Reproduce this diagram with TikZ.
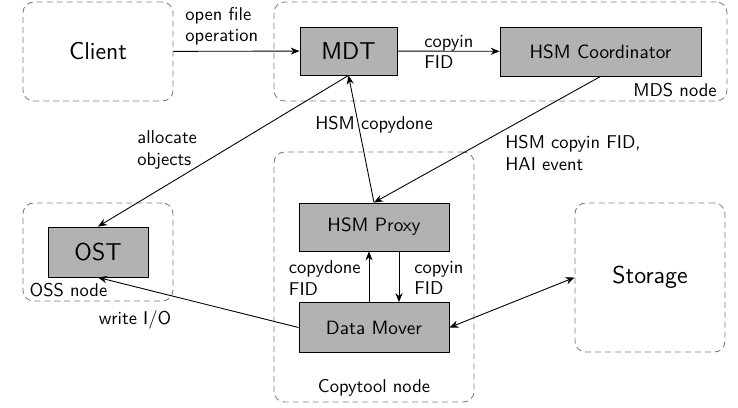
\documentclass[tikz,border=0pt]{standalone}
\usetikzlibrary{arrows.meta}
\newdimen\pxu \pxu=0.5618pt
\begin{document}
\begin{tikzpicture}[x=0.5618pt,y=-0.5618pt,font=\sffamily\fontsize{10.4}{11.9}\selectfont,
  sz/.style 2 args={minimum width={#1*\pxu},minimum height={#2*\pxu}},
  big/.style={font=\sffamily\fontsize{13.7}{16}\selectfont},
  mid/.style={font=\sffamily\fontsize{10.8}{13}\selectfont},
  container/.style={draw=gray,dash pattern=on 3.4pt off 2.2pt,rounded corners=6pt,inner sep=0pt,line width=0.5pt},
  block/.style={draw=black,fill=gray!60,inner sep=0pt,line width=0.5pt},
  conn/.style={-{Stealth[length=5pt,width=4pt,inset=1.6pt]},line width=0.5pt},
  biconn/.style={{Stealth[length=5pt,width=4pt,inset=1.6pt]}-{Stealth[length=5pt,width=4pt,inset=1.6pt]},line width=0.5pt},
  lbl/.style={align=left,inner sep=0pt}]
\useasboundingbox (0,0) rectangle (738,407);
% containers
\node[container,sz={150}{99},big] (client) at (98,51.5) {Client};
\node[container,sz={453}{99}] (mds) at (500.5,51.5) {};
\node[container,sz={150}{98}] (oss) at (98,252) {};
\node[container,sz={200}{250}] (copytool) at (374,277) {};
\node[container,sz={150}{149},big] (storage) at (650,277.5) {Storage};
% blocks
\node[block,sz={97}{48},big] (mdt) at (348.5,51) {MDT};
\node[block,sz={201}{49},mid] (coord) at (600.5,51.5) {HSM Coordinator};
\node[block,sz={100}{50},big] (ost) at (98,252) {OST};
\node[block,sz={150}{48},mid] (proxy) at (374,227) {HSM Proxy};
\node[block,sz={150}{50},mid] (dm) at (374,327.5) {Data Mover};
% container labels
\node[lbl] (mdslbl) at (675,90) {MDS node};
\node[lbl] (osslbl) at (68.5,290) {OSS node};
\node[lbl] (ctlbl) at (374,388) {Copytool node};
% connectors
\draw[conn] (client) -- (mdt);
\draw[conn] (mdt) -- (coord);
\draw[conn] (mdt.south) -- (ost.north);
\draw[conn] (proxy.north) -- (mdt.south);
\draw[conn] (coord.south) -- (proxy.north);
\draw[conn] ([xshift=-5*\pxu]dm.north) -- ([xshift=-5*\pxu]proxy.south);
\draw[conn] ([xshift=25*\pxu]proxy.south) -- ([xshift=25*\pxu]dm.north);
\draw[conn] (dm.west) -- (ost.south);
\draw[biconn] (dm.east) -- (storage.west);
% connector labels
\node[lbl,anchor=west] (l1) at (185,26) {open file\\operation};
\node[lbl,anchor=west] (l2) at (424,52) {copyin\\FID};
\node[lbl,anchor=west] (l3) at (137,150) {allocate\\objects};
\node[lbl] (l4) at (374,125) {HSM copydone};
\node[lbl,anchor=west] (l5) at (505,153) {HSM copyin FID,\\HAI event};
\node[lbl,anchor=east] (l6) at (361,278) {copydone\\FID};
\node[lbl,anchor=west] (l7) at (414,278) {copyin\\FID};
\node[lbl] (l8) at (135,320) {write I/O};
\end{tikzpicture}
\end{document}
